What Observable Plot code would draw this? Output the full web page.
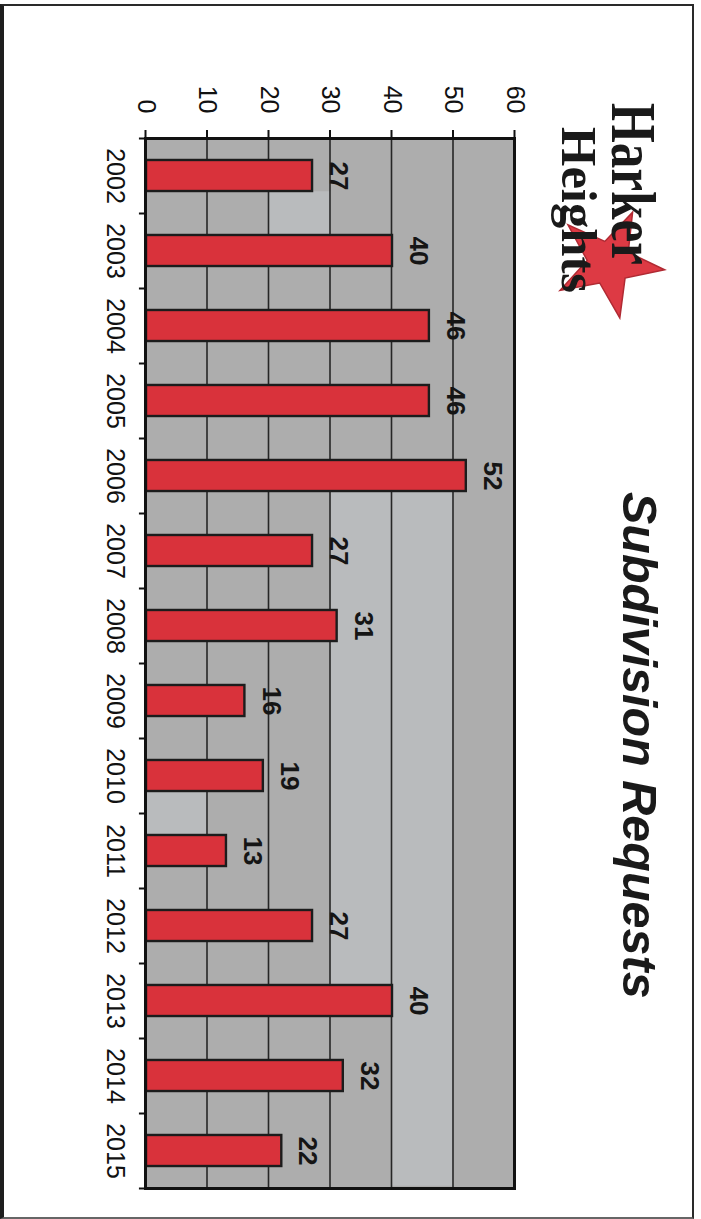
<!DOCTYPE html>
<html>
<head>
<meta charset="utf-8">
<script src="https://cdn.jsdelivr.net/npm/d3@7"></script>
<script src="https://cdn.jsdelivr.net/npm/@observablehq/plot@0.6"></script>
<style>
  html, body { margin: 0; padding: 0; background: #fff; width: 701px; height: 1219px; overflow: hidden; }
  #page { position: absolute; left: 0; top: 4px; width: 688px; height: 1211px;
          border-left: 4px solid #1e1e1e; border-top: 2px solid #2a2a2a;
          border-right: 2px solid #2a2a2a; border-bottom: 2px solid #666; }
  #rot { position: absolute; left: 0; top: 0; width: 1219px; height: 701px;
         transform-origin: 0 0; transform: translate(701px, 0) rotate(90deg); }
  #chart, #overlay { position: absolute; left: 0; top: 0; }
  #overlay { pointer-events: none; }
</style>
</head>
<body>
<div id="page"></div>
<div id="rot">
  <div id="chart"></div>
  <svg id="overlay" width="1219" height="701" xmlns="http://www.w3.org/2000/svg">
    <polygon id="star" fill="#dd3a44" stroke="#b02a33" stroke-width="1.5"></polygon>
    <text x="103" y="89" font-family="Liberation Serif, serif" font-weight="bold" font-size="64"
          textLength="162" lengthAdjust="spacingAndGlyphs" fill="#1a1a1a">Harker</text>
    <text x="127" y="139" font-family="Liberation Serif, serif" font-weight="bold" font-size="50"
          textLength="166" lengthAdjust="spacingAndGlyphs" fill="#1a1a1a">Heights</text>
    <text x="492" y="78" font-family="Liberation Sans, Arial, sans-serif" font-weight="bold"
          font-style="italic" font-size="48.5" fill="#1a1a1a">Subdivision Requests</text>
  </svg>
</div>
<script>
// ---- data ----
const years = [2002, 2003, 2004, 2005, 2006, 2007, 2008, 2009, 2010, 2011, 2012, 2013, 2014, 2015];
const requests = [27, 40, 46, 46, 52, 27, 31, 16, 19, 13, 27, 40, 32, 22];
const valueTicks = [0, 10, 20, 30, 40, 50, 60];
const gridValues = [10, 20, 30, 40, 50];

// scan shading visible behind the bars (lighter patches of the plot background)
const scanShading = [
  {x1: 2006.21, x2: 2012.79, y1: 30, y2: 40},
  {x1: 2006.21, x2: 2015.47, y1: 40, y2: 50},
  {x1: 2002.21, x2: 2002.79, y1: 20, y2: 30},
  {x1: 2010.21, x2: 2010.79, y1: 0, y2: 10}
];

const data = years.map((year, i) => ({year, value: requests[i]}));
const halfBar = 0.207;
const bounds = [...years.map(y => y - 0.5), years[years.length - 1] + 0.5];

// ---- star decoration for the logo ----
(function () {
  const cx = 263, cy = 92, R = 56, r = 22;
  const pts = [];
  for (let k = 0; k < 10; k++) {
    const a = -Math.PI / 2 + 0.12 + k * Math.PI / 5;
    const rad = k % 2 === 0 ? R : r;
    pts.push((cx + rad * Math.cos(a)).toFixed(1) + "," + (cy + rad * Math.sin(a)).toFixed(1));
  }
  document.getElementById("star").setAttribute("points", pts.join(" "));
})();

const chart = Plot.plot({
  width: 1219,
  height: 701,
  marginLeft: 138,
  marginRight: 31,
  marginTop: 186,
  marginBottom: 146,
  x: {type: "linear", domain: [2001.5, 2015.5]},
  y: {domain: [0, 60]},
  style: {fontFamily: "Liberation Sans, Arial, sans-serif", background: "transparent", color: "#111"},
  marks: [
    Plot.frame({fill: "#adadad"}),
    Plot.rect(scanShading, {x1: "x1", x2: "x2", y1: "y1", y2: "y2", fill: "#b9bbbd"}),
    Plot.ruleY(gridValues, {stroke: "#262626", strokeWidth: 1.6}),
    Plot.rect(data, {
      x1: d => d.year - halfBar, x2: d => d.year + halfBar,
      y1: 0, y2: "value",
      fill: "#d9323b", stroke: "#1c1c1c", strokeWidth: 2.4
    }),
    Plot.text(data, {
      x: "year", y: "value", text: d => String(d.value),
      dy: -27, fontSize: 26, fontWeight: "bold", fill: "#151515", lineAnchor: "middle"
    }),
    Plot.frame({stroke: "#111", strokeWidth: 3}),
    Plot.axisY({ticks: valueTicks, tickSize: 8, tickPadding: 17, fontSize: 25,
                tickFormat: d => String(d), label: null, stroke: "#111", strokeWidth: 2}),
    Plot.axisX({ticks: years, tickSize: 0, tickPadding: 21, fontSize: 25,
                tickFormat: d => String(d), label: null}),
    Plot.ruleX(bounds, {y1: 0, y2: -1.15, stroke: "#111", strokeWidth: 2})
  ]
});
document.getElementById("chart").appendChild(chart);
</script>
</body>
</html>
